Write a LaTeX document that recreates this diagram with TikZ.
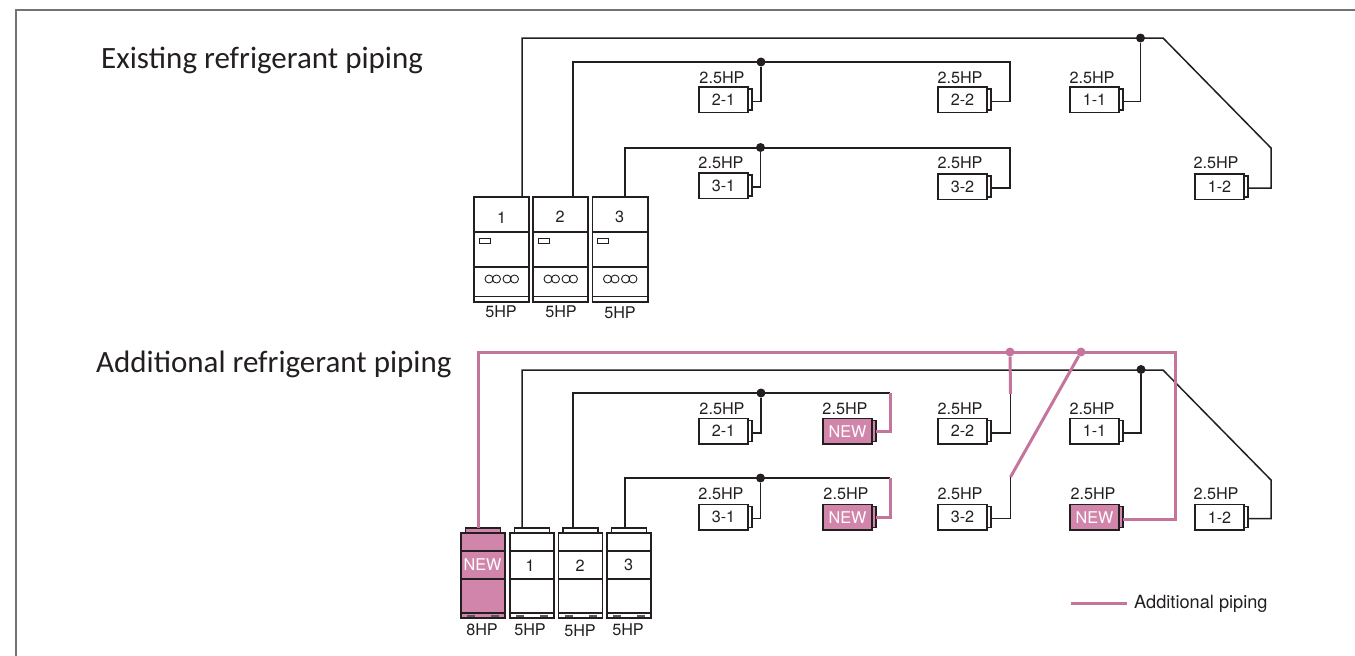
\documentclass[tikz,border=0pt]{standalone}
\usepackage{fontspec}
\setmainfont{TeX Gyre Heros}
\newfontfamily\titlefont{Carlito}
\newfontfamily\titlelig[Ligatures={Common,Rare}]{Carlito}
\newcommand{\tilig}{{\titlelig ti}}
\definecolor{ink}{HTML}{231F20}
\definecolor{pinkfill}{HTML}{D285AB}
\definecolor{pinkline}{HTML}{C5749C}
\tikzset{
  lbl/.style={font=\fontsize{16.2}{18}\selectfont,text=ink,inner sep=0pt},
  newlbl/.style={font=\fontsize{16.2}{18}\selectfont,text=white,inner sep=0pt},
  legendlbl/.style={font=\fontsize{18.2}{20}\selectfont,text=ink,inner sep=0pt},
  ttl/.style={font=\titlefont\fontsize{31}{34}\selectfont,text=ink,inner sep=0pt,anchor=base west},
  boxshape/.style={draw=ink,line width=1.1pt,fill=white,inner sep=0pt,outer sep=0pt,anchor=north west},
  pinkshape/.style={boxshape,fill=pinkfill},
  pipe/.style={draw=ink,line width=1.5pt,line join=miter},
  addpipe/.style={draw=pinkline,line width=3pt,line join=miter},
  dotblack/.style={circle,fill=ink,inner sep=0pt,minimum size=9pt},
  dotpink/.style={circle,fill=pinkline,inner sep=0pt,minimum size=9pt},
  inner/.style={draw=ink,line width=1.1pt},
}
% name, x, y, kind, label-style, label, hp-x, hp-y
\newcommand{\indoorunit}[8]{%
  \node[#4,minimum width=5pt,minimum height=21pt,anchor=west] (p#1) at (#2+48,#3+12.5) {};
  \node[#4,minimum width=49pt,minimum height=25.5pt] (u#1) at (#2,#3) {};
  \node[#5] (l#1) at (u#1.center) {#6};
  \node[lbl] (h#1) at (#7,#8) {2.5HP};
}
\newcommand{\upperunit}[4]{%
  \node[boxshape,minimum width=#4pt,minimum height=105pt] (o#1) at (#2,#3) {};
  \draw[inner] (#2,#3+35) -- ++(#4,0) (#2,#3+70) -- ++(#4,0) (#2,#3+99.5) -- ++(#4,0);
  \draw[inner,line width=.9pt] (#2+5,#3+41) rectangle ++(11,5);
  \draw[inner,line width=.9pt] (#2+15,#3+82) circle (4) (#2+22.5,#3+82) circle (4) (#2+33,#3+82) circle (4) (#2+40.5,#3+82) circle (4);
}
\newcommand{\lowerunit}[5]{%
  \node[#5,minimum width=35pt,minimum height=6pt] (c#1) at (#2+4.5,#3-5) {};
  \node[#5,minimum width=#4pt,minimum height=85pt] (o#1) at (#2,#3) {};
  \draw[inner] (#2,#3+18) -- ++(#4,0) (#2,#3+46) -- ++(#4,0) (#2,#3+80) -- ++(#4,0);
  \draw[draw=ink!75,line width=1.1pt] (#2+6,#3+83) -- ++(8,0) (#2+#4-14,#3+83) -- ++(8,0);
}
\begin{document}
\begin{tikzpicture}[x=1pt,y=-1pt]
\useasboundingbox (0,0) rectangle (1355,656);
\draw[draw=black!55,line width=1.5pt] (1355,10) -- (16,10) -- (16,656);

\node[ttl] (t1) at (101,68) {Exis\tilig ng refrigerant piping};
\node[ttl] (t2) at (96,372) {Addi\tilig onal refrigerant piping};

% ---- upper diagram
\upperunit{A}{474}{197}{55}
\upperunit{B}{533}{197}{55}
\upperunit{C}{592.5}{197}{55.5}
\node[lbl] (nA) at (501.5,218) {1};
\node[lbl] (nB) at (560,217) {2};
\node[lbl] (nC) at (619.5,216.5) {3};
\node[lbl] (hA) at (501,312) {5HP};
\node[lbl] (hB) at (561,312) {5HP};
\node[lbl] (hC) at (620,313) {5HP};
\indoorunit{a21}{699}{87}{boxshape}{lbl}{2-1}{722}{78}
\indoorunit{a22}{938}{87}{boxshape}{lbl}{2-2}{960}{78}
\indoorunit{a11}{1070}{87}{boxshape}{lbl}{1-1}{1092}{78}
\indoorunit{a31}{699}{173}{boxshape}{lbl}{3-1}{721}{163}
\indoorunit{a32}{938}{174}{boxshape}{lbl}{3-2}{960}{163}
\indoorunit{a12}{1195}{174}{boxshape}{lbl}{1-2}{1216}{163}
\node[dotblack] (ja1) at (1140.5,38) {};
\node[dotblack] (ja2) at (761,62) {};
\node[dotblack] (ja3) at (760.5,147.5) {};
\coordinate (a1top) at (522,38);
\coordinate (a1b) at (1163,38);
\coordinate (a1c) at (1271,148);
\coordinate (a2top) at (573,62);
\coordinate (a2r) at (1010,62);
\coordinate (a3top) at (625,148);
\coordinate (a3r) at (1010,148);
\draw[pipe] (a1top |- oA.north) -- (a1top) -- (a1b) -- (a1c) |- ([yshift=-1.5pt]pa12.east);
\draw[pipe] (ja1) |- ([yshift=-2pt]pa11.east);
\draw[pipe] (a2top |- oB.north) -- (a2top) -- (a2r) |- ([yshift=-2pt]pa22.east);
\draw[pipe] (ja2) |- ([yshift=-2pt]pa21.east);
\draw[pipe] (a3top |- oC.north) -- (a3top) -- (a3r) |- ([yshift=-1.5pt]pa32.east);
\draw[pipe] (ja3) |- ([yshift=-1.5pt]pa31.east);

% ---- lower diagram
\lowerunit{N}{461}{533}{44}{pinkshape}
\lowerunit{D}{510}{533}{44}{boxshape}
\lowerunit{E}{558.5}{533}{44}{boxshape}
\lowerunit{F}{607}{533}{44}{boxshape}
\node[newlbl] (nN) at (482.5,565) {NEW};
\node[lbl] (nD) at (530,566) {1};
\node[lbl] (nE) at (580,566) {2};
\node[lbl] (nF) at (628.5,565) {3};
\node[lbl] (hN) at (482,630) {8HP};
\node[lbl] (hD) at (530,630) {5HP};
\node[lbl] (hE) at (580,631) {5HP};
\node[lbl] (hF) at (628,630) {5HP};
\indoorunit{b21}{699}{418.5}{boxshape}{lbl}{2-1}{722}{409}
\indoorunit{b22}{938}{418.5}{boxshape}{lbl}{2-2}{960}{409}
\indoorunit{b11}{1070}{418.5}{boxshape}{lbl}{1-1}{1092}{409}
\indoorunit{b31}{699}{504.5}{boxshape}{lbl}{3-1}{721}{494}
\indoorunit{b32}{938}{504.5}{boxshape}{lbl}{3-2}{960}{494}
\indoorunit{b12}{1195}{504.5}{boxshape}{lbl}{1-2}{1216}{494}
\indoorunit{bn1}{823}{418.5}{pinkshape}{newlbl}{NEW}{845}{409}
\indoorunit{bn2}{823}{504.5}{pinkshape}{newlbl}{NEW}{846}{494}
\indoorunit{bn3}{1070}{504.5}{pinkshape}{newlbl}{NEW}{1093}{494}
\node[dotblack] (jb1) at (1141,369.5) {};
\node[dotblack] (jb2) at (761,393) {};
\node[dotblack] (jb3) at (760.5,478) {};
\coordinate (b1top) at (522,370);
\coordinate (b1b) at (1163,370);
\coordinate (b1c) at (1271,480);
\coordinate (b2top) at (573,393);
\coordinate (b2r) at (890,393);
\coordinate (b3top) at (625,478);
\coordinate (b3r) at (890,478);
\coordinate (b22up) at (1010.5,394);
\coordinate (b32up) at (1010.5,477);
\draw[pipe] (b1top |- cD.north) -- (b1top) -- (b1b) -- (b1c) |- ([yshift=-1.5pt]pb12.east);
\draw[pipe] (jb1) |- ([yshift=-2pt]pb11.east);
\draw[pipe] (b2top |- cE.north) -- (b2top) -- (b2r);
\draw[pipe] (jb2) |- ([yshift=-2pt]pb21.east);
\draw[pipe] (b3top |- cF.north) -- (b3top) -- (b3r);
\draw[pipe] (jb3) |- ([yshift=-1.5pt]pb31.east);
\draw[pipe] (b22up) |- ([yshift=-2pt]pb22.east);
\draw[pipe] (b32up) |- ([yshift=-1.5pt]pb32.east);
% additional piping
\node[dotpink] (jp1) at (1010,352) {};
\node[dotpink] (jp2) at (1081,352) {};
\coordinate (ptop) at (478,352);
\coordinate (pr) at (1175,352);
\draw[addpipe] (ptop |- cN.north) -- (ptop) -- (pr) |- ([yshift=-2pt]pbn3.east);
\draw[addpipe] (jp1) -- (b22up);
\draw[addpipe] (jp2) -- (b32up);
\draw[addpipe] (b2r) |- (pbn1.east);
\draw[addpipe] (b3r) |- (pbn2.east);
% legend
\coordinate (lg1) at (1071,603);
\coordinate (lg2) at (1127,603);
\draw[addpipe] (lg1) -- (lg2);
\node[legendlbl,anchor=west] (lgt) at (1134,603.5) {Additional piping};
\end{tikzpicture}
\end{document}
